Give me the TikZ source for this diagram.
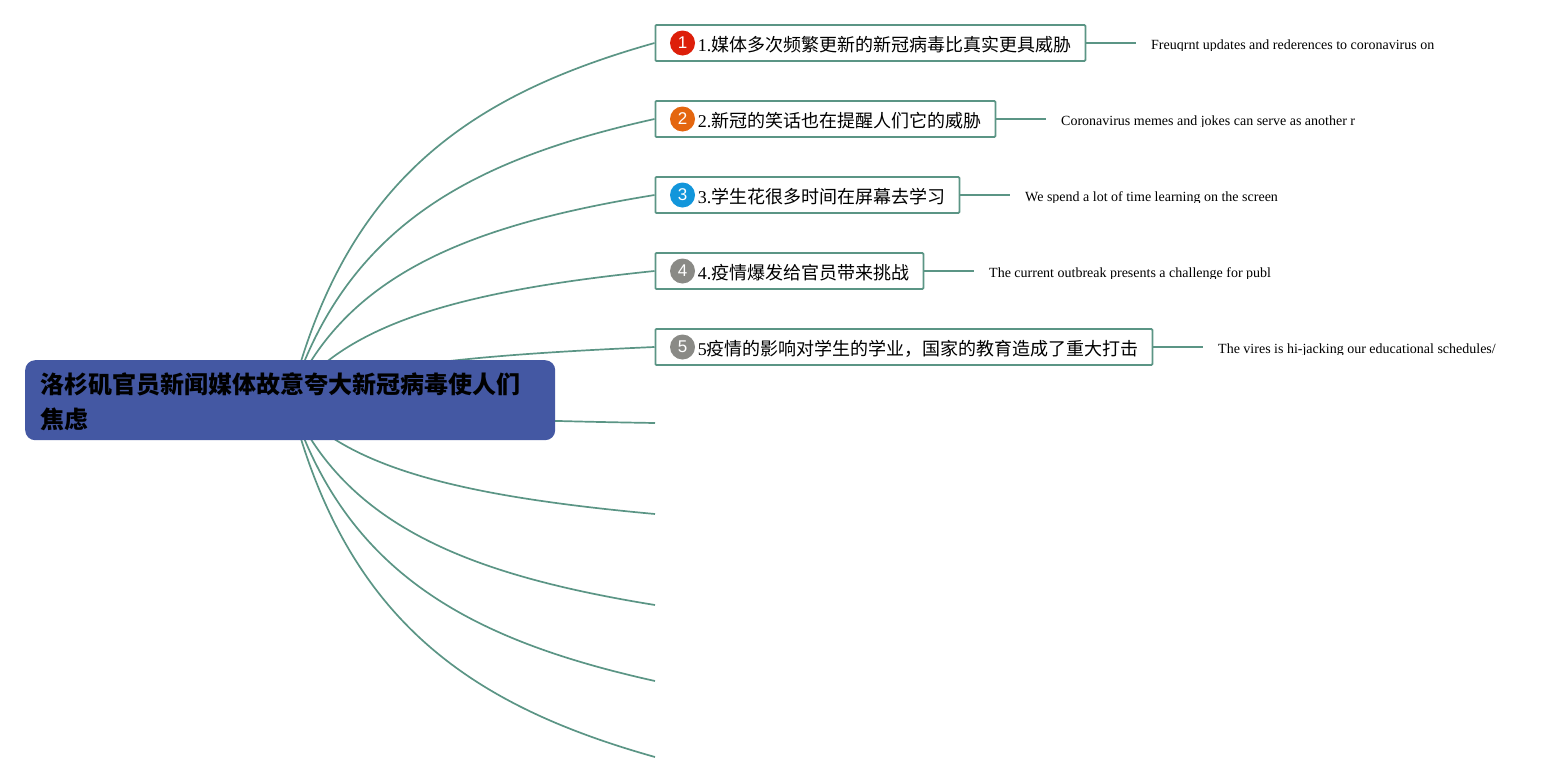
\documentclass[tikz,border=0pt]{standalone}
\usepackage{fontspec}
\setmainfont{Liberation Serif}
\setsansfont{Liberation Sans}
\newfontfamily\cjkfont{Noto Sans CJK SC}
\usetikzlibrary{backgrounds}
\definecolor{branchgreen}{HTML}{5B9585}
\definecolor{rootblue}{HTML}{4458A3}
\definecolor{badgered}{HTML}{DD1F0A}
\definecolor{badgeorange}{HTML}{E4660F}
\definecolor{badgeblue}{HTML}{1296DB}
\definecolor{badgegrey}{HTML}{8A8A86}
\tikzset{
  branch/.style={draw=branchgreen,line width=1.7pt},
  roottopic/.style={fill=rootblue,rounded corners=10pt,anchor=north west,minimum width=530pt,minimum height=80pt,
    text width=500pt,inner xsep=15pt,align=left,font=\cjkfont\fontsize{24}{35}\selectfont\bfseries,
    execute at begin node={\rule{0pt}{23pt}}},
  subtopic/.style={draw=branchgreen,line width=1.8pt,fill=white,rounded corners=1pt,anchor=west,minimum height=36pt,
    inner xsep=0pt,text height=16pt,text depth=0pt,align=left,font=\fontsize{18}{22}\selectfont,execute at begin node={\hspace*{42.5pt}}},
  note/.style={anchor=west,inner xsep=15pt,inner ysep=0pt,text height=12pt,text depth=0pt,font=\fontsize{14}{16}\selectfont},
  badge/.style={circle,minimum size=25pt,inner sep=0pt,text=white,font=\sffamily\fontsize{17}{17}\selectfont},
}
\begin{document}
\begin{tikzpicture}[x=1pt,y=-1pt]
  \useasboundingbox (0,0) rectangle (1556,782);
  \node[roottopic] (root) at (25,360) {洛杉矶官员新闻媒体故意夸大新冠病毒使人们\\焦虑};

  \node[subtopic,text width=430pt] (topic1) at (654.5,43) {1.{\cjkfont 媒体多次频繁更新的新冠病毒比真实更具威胁}};
  \node[subtopic,text width=340pt] (topic2) at (654.5,119) {2.{\cjkfont 新冠的笑话也在提醒人们它的威胁}};
  \node[subtopic,text width=304pt] (topic3) at (654.5,195) {3.{\cjkfont 学生花很多时间在屏幕去学习}};
  \node[subtopic,text width=268pt] (topic4) at (654.5,271) {4.{\cjkfont 疫情爆发给官员带来挑战}};
  \node[subtopic,text width=497pt] (topic5) at (654.5,347) {5{\cjkfont 疫情的影响对学生的学业，国家的教育造成了重大打击}};

  \node[badge,fill=badgered] (badge1) at (682.5,43) {1};
  \node[badge,fill=badgeorange] (badge2) at (682.5,119) {2};
  \node[badge,fill=badgeblue] (badge3) at (682.5,195) {3};
  \node[badge,fill=badgegrey] (badge4) at (682.5,271) {4};
  \node[badge,fill=badgegrey] (badge5) at (682.5,347) {5};

  \begin{scope}
    % the texts are cut off just under the baseline
    \clip (1136,30) rectangle (1556,50.5) (1046,106) rectangle (1556,126.5) (1010,182) rectangle (1556,202.5)
      (974,258) rectangle (1556,278.5) (1203,334) rectangle (1556,354.5);
    \node[note] (note1) at (1136,43) {Freuqrnt updates and rederences to coronavirus on};
    \node[note] (note2) at (1046,119) {Coronavirus memes and jokes can serve as another r};
    \node[note] (note3) at (1010,195) {We spend a lot of time learning on the screen};
    \node[note] (note4) at (974,271) {The current outbreak presents a challenge for publ};
    \node[note] (note5) at (1203,347) {The vires is hi-jacking our educational schedules/};
  \end{scope}

  \coordinate (end6) at (655,423);
  \coordinate (end7) at (655,514);
  \coordinate (end8) at (655,605);
  \coordinate (end9) at (655,681);
  \coordinate (end10) at (655,757);

  \begin{scope}[on background layer]
    \draw[branch] (root.center) .. controls (345,180) and (470,95) .. (topic1.west);
    \draw[branch] (root.center) .. controls (345,227) and (470,160) .. (topic2.west);
    \draw[branch] (root.center) .. controls (345,274) and (470,225) .. (topic3.west);
    \draw[branch] (root.center) .. controls (345,321) and (470,290) .. (topic4.west);
    \draw[branch] (root.center) .. controls (345,367) and (470,355) .. (topic5.west);
    \draw[branch] (root.center) .. controls (345,414) and (470,420) .. (end6);
    \draw[branch] (root.center) .. controls (345,470) and (470,497) .. (end7);
    \draw[branch] (root.center) .. controls (345,526) and (470,575) .. (end8);
    \draw[branch] (root.center) .. controls (345,573) and (470,640) .. (end9);
    \draw[branch] (root.center) .. controls (345,620) and (470,705) .. (end10);
  \end{scope}

  \draw[branch] (topic1) -- (note1);
  \draw[branch] (topic2) -- (note2);
  \draw[branch] (topic3) -- (note3);
  \draw[branch] (topic4) -- (note4);
  \draw[branch] (topic5) -- (note5);
\end{tikzpicture}
\end{document}
